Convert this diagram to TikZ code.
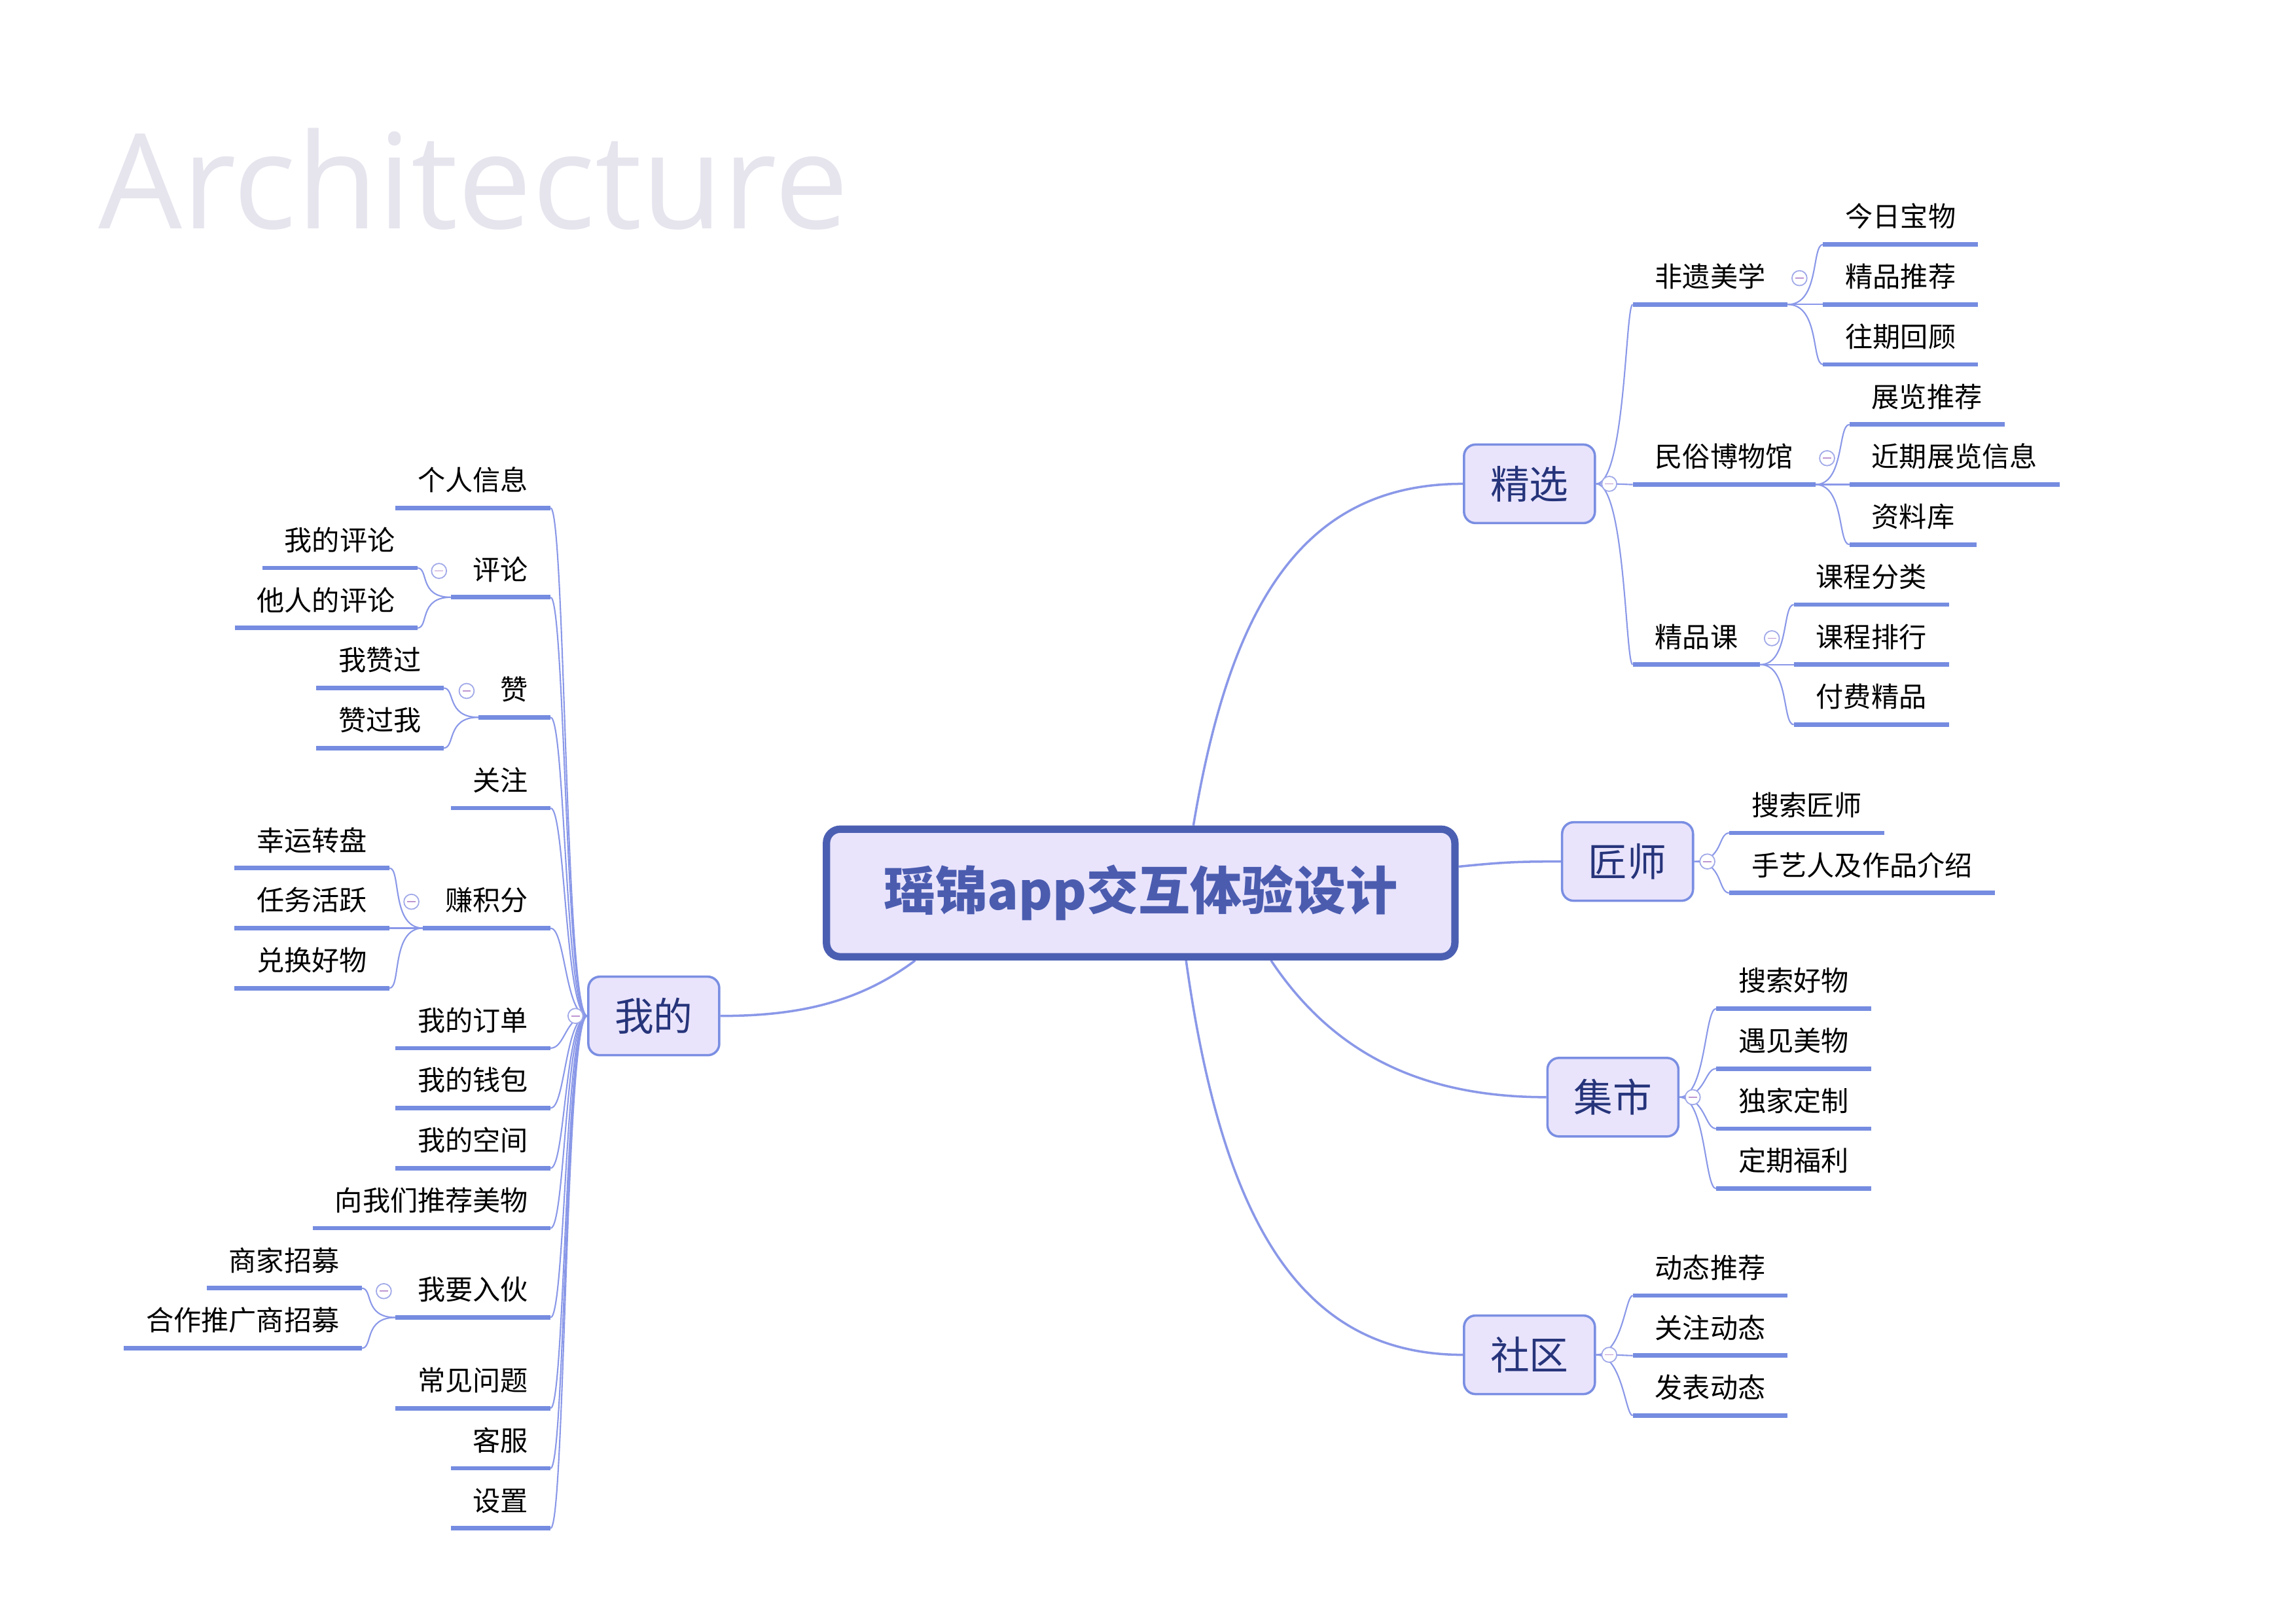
\documentclass[tikz,border=0pt]{standalone}
\usepackage{fontspec}
\usepackage{tikz}
\usetikzlibrary{calc,backgrounds}
\newfontfamily\cjk{Noto Sans CJK SC}
\newfontfamily\titlefont{Open Sans}
\definecolor{rootline}{RGB}{75,95,178}
\definecolor{roottext}{RGB}{75,92,175}
\definecolor{boxfill}{RGB}{233,228,252}
\definecolor{boxline}{RGB}{122,142,226}
\definecolor{boxtext}{RGB}{38,52,122}
\definecolor{ulcolor}{RGB}{117,140,224}
\definecolor{linkcol}{RGB}{138,152,232}
\definecolor{foldcol}{RGB}{160,168,232}
\definecolor{minuscol}{RGB}{190,150,210}
\definecolor{archgray}{RGB}{230,229,238}

\tikzset{
  rootbox/.style={draw=rootline, line width=3.2pt, fill=boxfill, rounded corners=6pt,
    minimum width=9.6cm, minimum height=1.95cm,
    font=\cjk\bfseries\fontsize{22.5}{27}\selectfont, text=roottext},
  topicbox/.style={draw=boxline, line width=1pt, fill=boxfill, rounded corners=5pt,
    minimum width=2.0cm, minimum height=1.2cm,
    font=\cjk\fontsize{17}{20}\selectfont, text=boxtext},
  ulinestyle/.style={draw=ulcolor, line width=1.9pt},
  leaf/.style={font=\cjk\fontsize{12}{14}\selectfont, inner xsep=9.5pt, inner ysep=7.4pt,
    text depth=0pt, text height=9.6pt,
    append after command={(\tikzlastnode.south west) edge[ulinestyle] (\tikzlastnode.south east)}},
  leafR/.style={leaf, anchor=south west},
  leafL/.style={leaf, anchor=south east},
  link/.style={draw=linkcol, line width=0.6pt},
  branch/.style={draw=linkcol, line width=1pt},
  fold/.style={circle, draw=foldcol, fill=white, line width=0.5pt, minimum size=6.5pt, inner sep=0pt,
    path picture={\draw[minuscol, line width=0.5pt]
      ([xshift=-1.8pt]path picture bounding box.center) -- ([xshift=1.8pt]path picture bounding box.center);}}
}

\begin{document}
\begin{tikzpicture}[x=0.022372cm, y=-0.022372cm]
\useasboundingbox (0,0) rectangle (1568,1109);

% title
\node[anchor=base west, inner sep=0pt, font=\titlefont\fontsize{57.5}{60}\selectfont, text=archgray] (Title) at (67,156) {Architecture};

% root and main topics
\node[rootbox] (Root) at (779,610) {瑶锦app交互体验设计};
\node[topicbox] (Jingxuan) at (1044.5,330.5) {精选};
\node[topicbox] (Jiangshi) at (1111.5,588.5) {匠师};
\node[topicbox] (Jishi) at (1101.5,749.5) {集市};
\node[topicbox] (Shequ) at (1044.5,925.5) {社区};
\node[topicbox] (Wode) at (446.5,694) {我的};

% 精选
\node[leafR] (Feiyi) at (1115,208) {非遗美学};
\node[leafR] (Jinri) at (1245,167) {今日宝物};
\node[leafR] (Tuijian) at (1245,208) {精品推荐};
\node[leafR] (Wangqi) at (1245,249) {往期回顾};
\node[leafR] (Minsu) at (1115,331) {民俗博物馆};
\node[leafR] (Zhanlan) at (1263,290) {展览推荐};
\node[leafR] (Jinqi) at (1263,331) {近期展览信息};
\node[leafR] (Ziliao) at (1263,372) {资料库};
\node[leafR] (Jingpinke) at (1115,454) {精品课};
\node[leafR] (Fenlei) at (1225,413) {课程分类};
\node[leafR] (Paihang) at (1225,454) {课程排行};
\node[leafR] (Fufei) at (1225,495) {付费精品};

% 匠师
\node[leafR] (Soujiang) at (1181,569) {搜索匠师};
\node[leafR] (Shouyi) at (1181,610) {手艺人及作品介绍};

% 集市
\node[leafR] (Souhao) at (1172,689) {搜索好物};
\node[leafR] (Yujian) at (1172,730) {遇见美物};
\node[leafR] (Dujia) at (1172,771) {独家定制};
\node[leafR] (Dingqi) at (1172,812) {定期福利};

% 社区
\node[leafR] (Dongtai) at (1115,885) {动态推荐};
\node[leafR] (Guandong) at (1115,926) {关注动态};
\node[leafR] (Fabiao) at (1115,967) {发表动态};

% 我的
\node[leafL] (Geren) at (376,347) {个人信息};
\node[leafL] (Pinglun) at (376,408) {评论};
\node[leafL] (Wodepl) at (285,388) {我的评论};
\node[leafL] (Tarenpl) at (285,429) {他人的评论};
\node[leafL] (Zan) at (376,490) {赞};
\node[leafL] (Wozan) at (303,470) {我赞过};
\node[leafL] (Zanwo) at (303,511) {赞过我};
\node[leafL] (Guanzhu) at (376,552) {关注};
\node[leafL] (Jifen) at (376,634) {赚积分};
\node[leafL] (Xingyun) at (266,593) {幸运转盘};
\node[leafL] (Renwu) at (266,634) {任务活跃};
\node[leafL] (Duihuan) at (266,675) {兑换好物};
\node[leafL] (Dingdan) at (376,716) {我的订单};
\node[leafL] (Qianbao) at (376,757) {我的钱包};
\node[leafL] (Kongjian) at (376,798) {我的空间};
\node[leafL] (Meiwu) at (376,839) {向我们推荐美物};
\node[leafL] (Ruhuo) at (376,900) {我要入伙};
\node[leafL] (Shangjia) at (247,880) {商家招募};
\node[leafL] (Hezuo) at (247,921) {合作推广商招募};
\node[leafL] (Changjian) at (376,962) {常见问题};
\node[leafL] (Kefu) at (376,1003) {客服};
\node[leafL] (Shezhi) at (376,1044) {设置};

% connectors
\begin{scope}[on background layer]
  \fill[white] (0,0) rectangle (1568,1109);
  \draw[branch] ($(Root.north)+(36,0)$) .. controls +(25,-150) and +(-110,0) .. (Jingxuan.west);
  \draw[branch] ($(Root.east)+(0,-18)$) .. controls +(30,-3) and +(-30,0) .. (Jiangshi.west);
  \draw[branch] ($(Root.south)+(89,0)$) .. controls +(40,60) and +(-90,0) .. (Jishi.west);
  \draw[branch] ($(Root.south)+(31,0)$) .. controls +(25,180) and +(-110,0) .. (Shequ.west);
  \draw[branch] ($(Root.south)+(-154,0)$) .. controls +(-40,30) and +(50,0) .. (Wode.east);

  \foreach \c in {Feiyi,Minsu,Jingpinke}
    \draw[link] (Jingxuan.east) .. controls +(20,0) and +(-5,0) .. (\c.south west);
  \foreach \c in {Jinri,Tuijian,Wangqi}
    \draw[link] (Feiyi.south east) .. controls +(22,0) and +(-8,0) .. (\c.south west);
  \foreach \c in {Zhanlan,Jinqi,Ziliao}
    \draw[link] (Minsu.south east) .. controls +(20,0) and +(-8,0) .. (\c.south west);
  \foreach \c in {Fenlei,Paihang,Fufei}
    \draw[link] (Jingpinke.south east) .. controls +(20,0) and +(-8,0) .. (\c.south west);
  \foreach \c in {Soujiang,Shouyi}
    \draw[link] (Jiangshi.east) .. controls +(20,0) and +(-8,0) .. (\c.south west);
  \foreach \c in {Souhao,Yujian,Dujia,Dingqi}
    \draw[link] (Jishi.east) .. controls +(18,0) and +(-8,0) .. (\c.south west);
  \foreach \c in {Dongtai,Guandong,Fabiao}
    \draw[link] (Shequ.east) .. controls +(18,0) and +(-5,0) .. (\c.south west);

  \foreach \c in {Geren,Pinglun,Zan,Guanzhu,Jifen,Dingdan,Qianbao,Kongjian,Meiwu,Ruhuo,Changjian,Kefu,Shezhi}
    \draw[link] (Wode.west) .. controls +(-15,0) and +(10,0) .. (\c.south east);
  \foreach \c in {Wodepl,Tarenpl}
    \draw[link] (Pinglun.south west) .. controls +(-22,0) and +(8,0) .. (\c.south east);
  \foreach \c in {Wozan,Zanwo}
    \draw[link] (Zan.south west) .. controls +(-22,0) and +(8,0) .. (\c.south east);
  \foreach \c in {Xingyun,Renwu,Duihuan}
    \draw[link] (Jifen.south west) .. controls +(-22,0) and +(8,0) .. (\c.south east);
  \foreach \c in {Shangjia,Hezuo}
    \draw[link] (Ruhuo.south west) .. controls +(-22,0) and +(8,0) .. (\c.south east);
\end{scope}

% fold markers
\node[fold] (FoldJingxuan) at ($(Jingxuan.east)+(9,0)$) {};
\node[fold] (FoldJiangshi) at ($(Jiangshi.east)+(9,0)$) {};
\node[fold] (FoldJishi) at ($(Jishi.east)+(9,0)$) {};
\node[fold] (FoldShequ) at ($(Shequ.east)+(9,0)$) {};
\node[fold] (FoldWode) at ($(Wode.west)+(-8,0)$) {};
\node[fold] (FoldFeiyi) at ($(Feiyi.south east)+(8,-18)$) {};
\node[fold] (FoldMinsu) at ($(Minsu.south east)+(8,-18)$) {};
\node[fold] (FoldJingpinke) at ($(Jingpinke.south east)+(8,-18)$) {};
\node[fold] (FoldPinglun) at ($(Pinglun.south west)+(-8,-18)$) {};
\node[fold] (FoldZan) at ($(Zan.south west)+(-8,-18)$) {};
\node[fold] (FoldJifen) at ($(Jifen.south west)+(-8,-18)$) {};
\node[fold] (FoldRuhuo) at ($(Ruhuo.south west)+(-8,-18)$) {};
\end{tikzpicture}
\end{document}
